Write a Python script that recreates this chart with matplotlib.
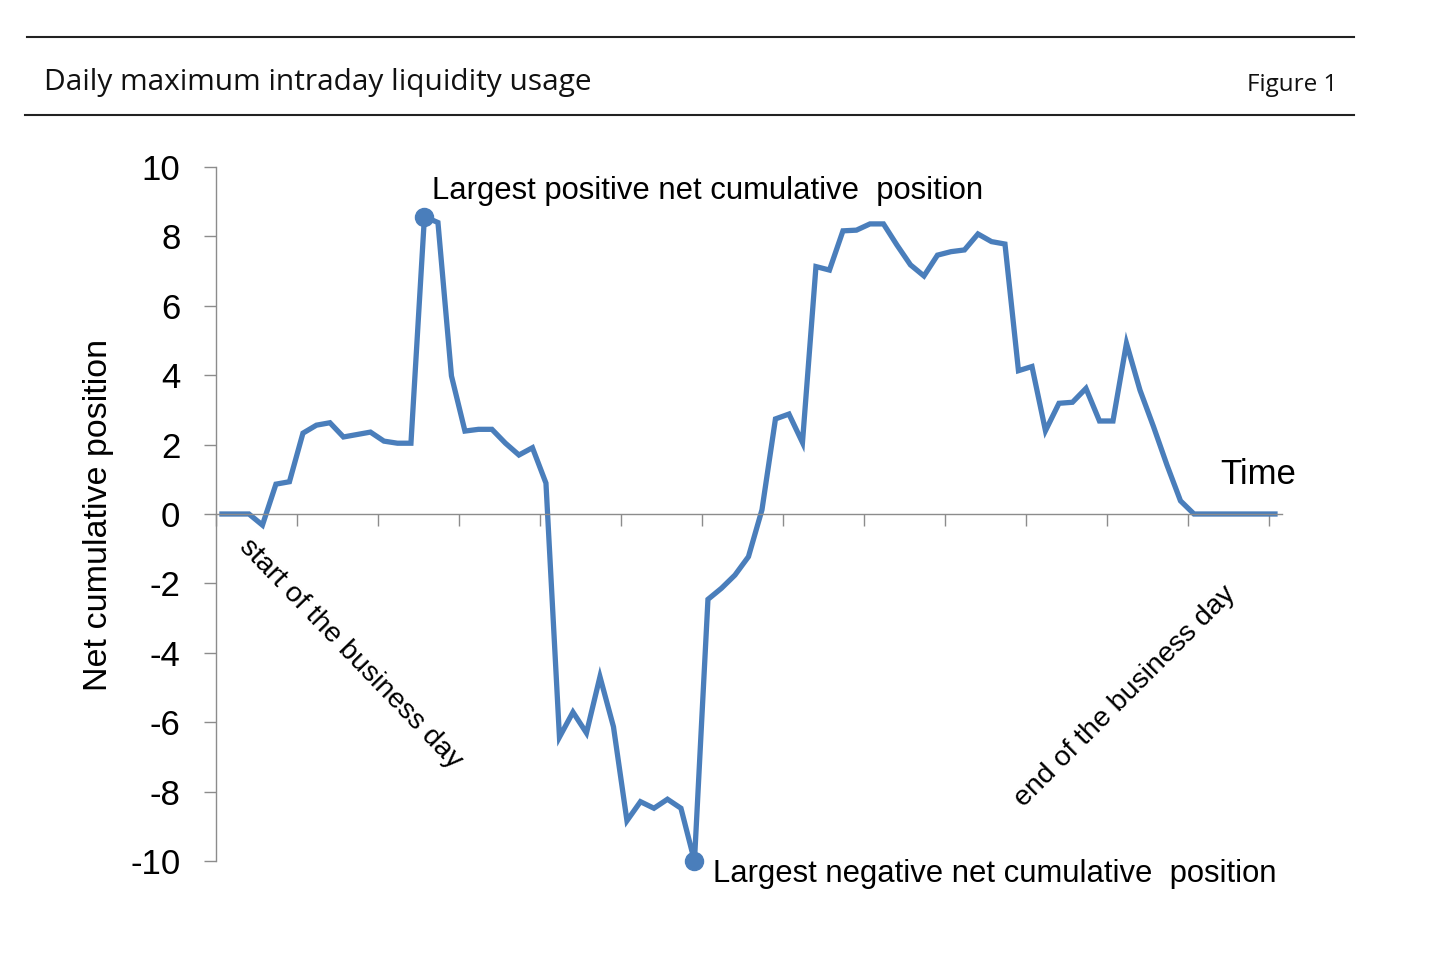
import matplotlib
matplotlib.use('Agg')
import matplotlib.pyplot as plt
import numpy as np
from matplotlib.lines import Line2D

# net cumulative position, one value per time slot through the business day
position = [
    0, 0, 0, -0.32, 0.86, 0.93, 2.33, 2.56, 2.63, 2.22,
    2.29, 2.36, 2.10, 2.04, 2.04, 8.57, 8.40, 3.98, 2.39, 2.44,
    2.44, 2.04, 1.70, 1.91, 0.89, -6.43, -5.71, -6.31, -4.69, -6.13,
    -8.84, -8.29, -8.48, -8.22, -8.48, -10.0, -2.46, -2.14, -1.76, -1.23,
    0.12, 2.74, 2.88, 2.06, 7.13, 7.03, 8.16, 8.18, 8.36, 8.36,
    7.75, 7.18, 6.86, 7.46, 7.56, 7.61, 8.07, 7.85, 7.78, 4.13,
    4.25, 2.40, 3.19, 3.22, 3.62, 2.68, 2.68, 4.92, 3.57, 2.52,
    1.41, 0.38, 0, 0, 0, 0, 0, 0, 0,
]
y_ticks = [-10, -8, -6, -4, -2, 0, 2, 4, 6, 8, 10]

W, H = 1456, 956
blue = '#4a7ebb'
grey = '#8c8c8c'
arial = 'Liberation Sans'


def fx(px):
    return px / W


def fy(py):
    return 1 - py / H


fig = plt.figure(figsize=(W / 100, H / 100), dpi=100)

# header: two rules, title and figure number
fig.add_artist(Line2D([fx(27), fx(1354)], [fy(37), fy(37)], color='#222222', lw=1.5))
fig.add_artist(Line2D([fx(25), fx(1354)], [fy(115), fy(115)], color='#222222', lw=1.5))
fig.text(fx(44), fy(90), 'Daily maximum intraday liquidity usage', family='Open Sans',
         fontsize=21.5, ha='left', va='baseline', color='#111111')
fig.text(fx(1337), fy(91), 'Figure 1', family='Open Sans', fontsize=17.5,
         ha='right', va='baseline', color='#111111')

ax = fig.add_axes([fx(216), fy(861), fx(1282) - fx(216), (861 - 167) / H])

x = np.arange(len(position)) + 0.44
ax.plot(x, position, color=blue, lw=3.8, solid_joinstyle='miter', clip_on=False)

i_max = int(np.argmax(position))
i_min = int(np.argmin(position))
ax.plot([x[i_max], x[i_min]], [position[i_max], position[i_min]], 'o',
        color=blue, markersize=13, clip_on=False)

ax.set_xlim(0, 78.96)
ax.set_ylim(-10, 10)
ax.set_yticks(y_ticks)
ax.set_yticklabels([str(v) for v in y_ticks])
ax.set_xticks(np.arange(0, 79, 6))
ax.set_xticklabels([])

for s in ['top', 'right']:
    ax.spines[s].set_visible(False)
ax.spines['bottom'].set_position(('data', 0))
for s in ['left', 'bottom']:
    ax.spines[s].set_color(grey)
    ax.spines[s].set_linewidth(1.0)
ax.tick_params(axis='y', direction='out', length=8.6, width=1.0, color=grey,
               pad=17, labelsize=25)
ax.tick_params(axis='x', direction='out', length=8.6, width=1.0, color=grey)
for lab in ax.get_yticklabels():
    lab.set_family(arial)

ax.set_ylabel('Net cumulative position', family=arial, fontsize=24.5)
ax.yaxis.set_label_coords(fx(114), fy(515), transform=fig.transFigure)

# annotations
ax.text(16.0, 9.08, 'Largest positive net cumulative  position', family=arial,
        fontsize=22.3, ha='left', va='baseline', clip_on=False)
ax.text(36.8, -10.6, 'Largest negative net cumulative  position', family=arial,
        fontsize=22.3, ha='left', va='baseline', clip_on=False)
ax.text(74.4, 0.86, 'Time', family=arial, fontsize=25, ha='left', va='baseline',
        clip_on=False)

fig.text(fx(238), fy(548), 'start of the business day', family=arial, fontsize=20.5,
         rotation=-46, rotation_mode='anchor', ha='left', va='baseline')
fig.text(fx(1024), fy(808), 'end of the business day', family=arial, fontsize=20.5,
         rotation=45, rotation_mode='anchor', ha='left', va='baseline')

fig.savefig('out.png', dpi=100, facecolor='white')
plt.close(fig)
